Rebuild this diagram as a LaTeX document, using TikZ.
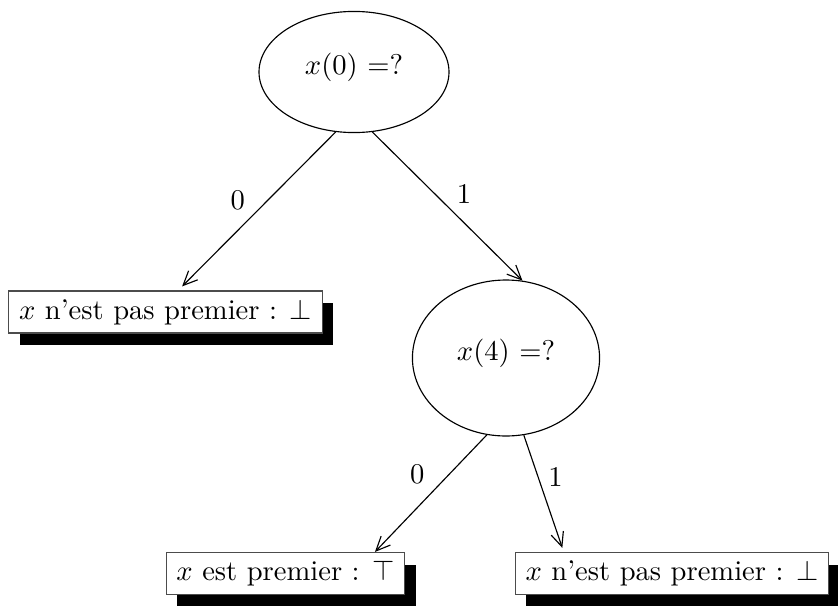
\documentclass[tikz,border=0pt]{standalone}
\usepackage{amsmath}
\usepackage{amssymb}
\usetikzlibrary{shapes.geometric,arrows.meta,shadows}

\tikzset{
  question/.style={draw, ellipse, inner sep=0pt, text depth=6pt},
  leaf/.style={draw=black!70, fill=white, rectangle, inner xsep=3.6pt, inner ysep=2.9pt,
    drop shadow={shadow xshift=3.8pt, shadow yshift=-4.2pt, fill=black, opacity=1}},
  branch/.style={-{Straight Barb[length=5pt,width=4.5pt]}},
}

\begin{document}
\begin{tikzpicture}[x=0.35pt, y=-0.35pt]
    \useasboundingbox (0,0) rectangle (838,607);

    % Questions
    \node (q0) [question, minimum width=66.5pt, minimum height=42.4pt] at (354,72) {$x(0)$ =?};
    \node (q4) [question, minimum width=65.5pt, minimum height=54.6pt] at (506,358) {$x(4)$ =?};

    % Answers
    \node (no1) [leaf] at (165.5,312) {$x$ n'est pas premier : $\bot$};
    \node (yes) [leaf] at (285.5,573.5) {$x$ est premier : $\top$};
    \node (no2) [leaf] at (672,573.5) {$x$ n'est pas premier : $\bot$};

    % Branches
    \draw[branch, shorten >=2pt] (q0.-107) -- ([xshift=4.4pt]no1.north) node[pos=0.43, left=4.5pt] {0};
    \draw[branch] (q0.-73.6) -- (q4.78) node[pos=0.42, right=4pt] {1};
    \draw[branch] (q4.-104) -- ([xshift=31.3pt]yes.north) node[pos=0.34, left=5pt] {0};
    \draw[branch, shorten >=1.5pt] (q4.-77) -- ([xshift=-37.9pt]no2.north) node[pos=0.36, right=0pt] {1};
\end{tikzpicture}
\end{document}
